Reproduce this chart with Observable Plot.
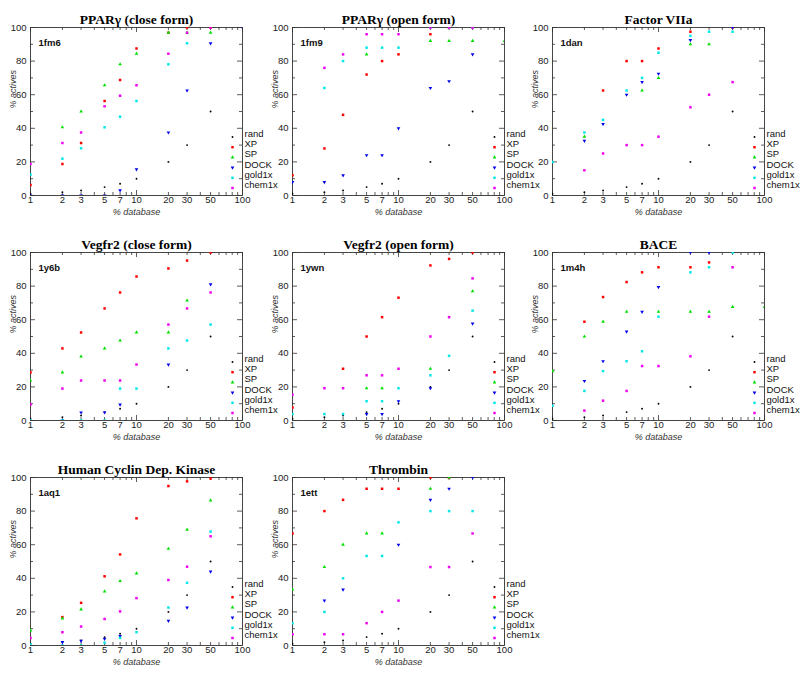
<!DOCTYPE html>
<html><head><meta charset="utf-8">
<script src="https://cdn.jsdelivr.net/npm/d3@7"></script>
<script src="https://cdn.jsdelivr.net/npm/@observablehq/plot@0.6"></script>
<style>
body{margin:0;background:#fff;}
#wrap{position:relative;width:800px;height:678px;overflow:hidden;background:#fff;}
.panel{position:absolute;}
.panel svg{overflow:visible;background:none;}
</style></head><body><div id="wrap"></div>
<script>
// x positions (% database) shared by every series
const xs = [1, 2, 3, 5, 7, 10, 20, 30, 50, 100];
const xTickLabels = [1, 2, 3, 5, 7, 10, 20, 30, 50, 100];
const yTickLabels = [0, 20, 40, 60, 80, 100];
const xMajor = [1, 10, 100];
const xMinor = [2, 3, 4, 5, 6, 7, 8, 9, 20, 30, 40, 50, 60, 70, 80, 90];
const yMajor = [0, 20, 40, 60, 80, 100];
const yMinor = [10, 30, 50, 70, 90];

const seriesNames = ["rand", "XP", "SP", "DOCK", "gold1x", "chem1x"];
const seriesColors = ["#000000", "#ff0000", "#00e000", "#0000ee", "#00e8e8", "#f000f0"];

const panelTitles = ["PPARγ (close form)", "PPARγ (open form)", "Factor VIIa",
  "Vegfr2 (close form)", "Vegfr2 (open form)", "BACE",
  "Human Cyclin Dep. Kinase", "Thrombin"];
const panelCodes = ["1fm6", "1fm9", "1dan", "1y6b", "1ywn", "1m4h", "1aq1", "1ett"];

const rand = [1, 2, 3, 5, 7, 10, 20, 30, 50, null];

// 1fm6
const fm6_XP     = [6.25, 18.75, 31.25, 56.25, 68.75, 87.5, 96.9, 100, 100, null];
const fm6_SP     = [null, 40.6, 50, 65.6, 78.1, 84.4, 96.9, 96.9, 96.9, null];
const fm6_DOCK   = [0, 0, 0, 0, 3.1, 15.6, 37.5, 62.5, 90.6, 100];
const fm6_gold1x = [12.5, 21.9, 28.1, 40.6, 46.9, 56.25, 78.1, 90.6, null, null];
const fm6_chem1x = [18.75, 31.25, 37.5, 53.1, 59.4, 65.6, 84.4, 96.9, 100, null];
// 1fm9
const fm9_XP     = [12, 28, 48, 72, 80, 84, 96, 100, 100, null];
const fm9_SP     = [null, null, null, 84, null, null, 92, 92, 92, 92];
const fm9_DOCK   = [8, 8, 12, 24, 24, 40, 64, 68, 84, null];
const fm9_gold1x = [null, 64, 80, 88, 88, 88, 100, 100, 100, null];
const fm9_chem1x = [null, 76, 84, 96, 96, 96, 100, 100, 100, null];
// 1dan
const dan_XP     = [null, null, 62.5, 80, 80, 87.5, 97.5, null, 100, null];
const dan_SP     = [null, 35, null, null, 62.5, 70, 90, 90, null, null];
const dan_DOCK   = [null, 32.5, 42.5, 60, 67.5, 72.5, 92.5, null, 100, null];
const dan_gold1x = [20, 37.5, 45, 62.5, 70, 85, 95, 97.5, 97.5, null];
const dan_chem1x = [null, 15, 25, 30, 30, 35, 52.5, 60, 67.5, null];
// 1y6b
const y6b_XP     = [28.6, 42.9, 52.4, 66.7, 76.2, 85.7, 90.5, 95.2, 100, null];
const y6b_SP     = [23.8, 28.6, 38.1, 42.9, 47.6, 52.4, 52.4, 71.4, null, null];
const y6b_DOCK   = [null, 0, 4.8, 4.8, 9.5, null, 33.3, null, 81, null];
const y6b_gold1x = [0, 0, 0, 0, 19, 19, 42.9, 47.6, 57.1, null];
const y6b_chem1x = [9.5, 19, 23.8, 23.8, 23.8, 33.3, 57.1, 66.7, 76.2, null];
// 1ywn
const ywn_XP     = [7.7, null, 30.8, 50, 61.5, 73.1, 92.3, 96.2, 100, null];
const ywn_SP     = [null, null, null, 19.2, 19.2, null, 30.8, null, 76.9, null];
const ywn_DOCK   = [null, null, null, 3.85, 3.85, 11.5, 19.2, null, 57.7, null];
const ywn_gold1x = [3.85, 3.85, 3.85, 11.5, 11.5, 19.2, 26.9, 38.5, 65.4, null];
const ywn_chem1x = [15.4, 19.2, 19.2, 26.9, 26.9, 30.8, 50, 61.5, 84.6, null];
// 1m4h
const m4h_XP     = [null, 58.8, 73.5, 82.4, 88.2, 91.2, 91.2, 94.1, null, null];
const m4h_SP     = [29.4, 50, 58.8, 64.7, null, 64.7, 64.7, 64.7, 67.6, 67.6];
const m4h_DOCK   = [null, 23.5, 35.3, 52.9, 64.7, 79.4, 100, 100, null, null];
const m4h_gold1x = [8.8, 17.6, 29.4, 35.3, 41.2, 61.8, 88.2, 91.2, 100, null];
const m4h_chem1x = [null, 5.9, 11.8, 17.6, 32.4, 32.4, 38.2, 61.8, 91.2, null];
// 1aq1
const aq1_XP     = [null, 16.9, 25.4, 41.2, 54.2, 75.7, 94.9, 97.7, 99.4, null];
const aq1_SP     = [9, 16.1, 21.5, 32.2, 38.4, 42.9, 57.6, 69, 86.4, null];
const aq1_DOCK   = [null, 2, 2.8, 4, 5.6, null, 14.7, 22.6, 44, null];
const aq1_gold1x = [0.6, 0, 0, 1.7, 4.5, 7.9, 22.6, 37.3, 67.8, null];
const aq1_chem1x = [4.5, 7.9, 11.3, 15.8, 20.3, 28.2, 39, 46.9, 65, null];
// 1ett
const ett_XP     = [66.7, 80, 86.7, 93.3, 93.3, 93.3, 100, 100, null, null];
const ett_SP     = [33.3, 46.7, 60, 66.7, 66.7, null, 93.3, 100, null, null];
const ett_DOCK   = [null, 26.7, 33.3, null, null, 60, 86.7, 93.3, 100, null];
const ett_gold1x = [13.3, 20, 40, 53.3, 53.3, 73.3, 80, 80, 80, null];
const ett_chem1x = [6.7, 6.7, 6.7, 13.3, 20, 26.7, 46.7, 46.7, 66.7, null];

const panelSeries = [
  [rand, fm6_XP, fm6_SP, fm6_DOCK, fm6_gold1x, fm6_chem1x],
  [rand, fm9_XP, fm9_SP, fm9_DOCK, fm9_gold1x, fm9_chem1x],
  [rand, dan_XP, dan_SP, dan_DOCK, dan_gold1x, dan_chem1x],
  [rand, y6b_XP, y6b_SP, y6b_DOCK, y6b_gold1x, y6b_chem1x],
  [rand, ywn_XP, ywn_SP, ywn_DOCK, ywn_gold1x, ywn_chem1x],
  [rand, m4h_XP, m4h_SP, m4h_DOCK, m4h_gold1x, m4h_chem1x],
  [rand, aq1_XP, aq1_SP, aq1_DOCK, aq1_gold1x, aq1_chem1x],
  [rand, ett_XP, ett_SP, ett_DOCK, ett_gold1x, ett_chem1x]
];

// layout
const colLeft = [0, 262, 522];
const rowFrameTop = [27, 252, 477];
const MT = 24, ML = 30, MR = 20, MB = 32, FW = 212, FH = 168;
const sans = "Liberation Sans, Arial, Helvetica, sans-serif";
const serif = "Liberation Serif, Times New Roman, serif";
const symOpts = [
  {symbol: "circle", r: 0.95},
  {symbol: "square", r: 1.4},
  {symbol: "triangle", r: 1.35},
  {symbol: "triangle", r: 1.35, rotate: 180},
  {symbol: "square", r: 1.4},
  {symbol: "square", r: 1.4}
];

const wrap = document.getElementById("wrap");

panelTitles.forEach((title, p) => {
  const row = Math.floor(p / 3), col = p % 3;
  const rows = [];
  panelSeries[p].forEach((vals, s) => {
    vals.forEach((v, i) => { if (v != null) rows.push({x: xs[i], y: v, s}); });
  });
  const marks = [
    Plot.frame({stroke: "#333", strokeWidth: 0.9}),
    // inward ticks
    Plot.tickX(xMajor, {x: d => d, insetTop: FH - 5, stroke: "#333", strokeWidth: 0.8}),
    Plot.tickX(xMajor, {x: d => d, insetBottom: FH - 5, stroke: "#333", strokeWidth: 0.8}),
    Plot.tickX(xMinor, {x: d => d, insetTop: FH - 3, stroke: "#333", strokeWidth: 0.8}),
    Plot.tickX(xMinor, {x: d => d, insetBottom: FH - 3, stroke: "#333", strokeWidth: 0.8}),
    Plot.tickY(yMajor, {y: d => d, insetRight: FW - 5, stroke: "#333", strokeWidth: 0.8}),
    Plot.tickY(yMajor, {y: d => d, insetLeft: FW - 5, stroke: "#333", strokeWidth: 0.8}),
    Plot.tickY(yMinor, {y: d => d, insetRight: FW - 3, stroke: "#333", strokeWidth: 0.8}),
    Plot.tickY(yMinor, {y: d => d, insetLeft: FW - 3, stroke: "#333", strokeWidth: 0.8}),
    // tick labels
    Plot.text(xTickLabels, {x: d => d, text: d => String(d), frameAnchor: "bottom", dy: 7.5,
      fontSize: 9.5, fontFamily: sans, fill: "#222"}),
    Plot.text(yTickLabels, {y: d => d, text: d => String(d), frameAnchor: "left", dx: -4,
      textAnchor: "end", fontSize: 9.5, fontFamily: sans, fill: "#222"}),
    // axis titles
    Plot.text(["% database"], {frameAnchor: "bottom", dy: 19, fontSize: 9, fontStyle: "italic",
      fontFamily: sans, fill: "#333"}),
    Plot.text(["% actives"], {frameAnchor: "left", dx: -17, dy: -3, rotate: -90, fontSize: 9,
      fontStyle: "italic", fontFamily: sans, fill: "#333"}),
    // title and code
    Plot.text([title], {frameAnchor: "top", dy: -13, fontSize: 13.5, fontWeight: "bold",
      fontFamily: serif, fill: "#000"}),
    Plot.text([panelCodes[p]], {frameAnchor: "top-left", dx: 8, dy: 12, textAnchor: "start",
      fontSize: 9.5, fontWeight: "bold", fontFamily: sans, fill: "#111"})
  ];
  seriesNames.forEach((name, s) => {
    const so = symOpts[s];
    marks.push(Plot.dot(rows.filter(d => d.s === s), {
      x: "x", y: "y", symbol: so.symbol, r: so.r, rotate: so.rotate || 0,
      fill: seriesColors[s], stroke: "none", clip: true
    }));
    // legend entry
    const dy = -7.5 - (5 - s) * 10.2;
    marks.push(Plot.dot([name], {frameAnchor: "bottom-right", dx: -10, dy, symbol: so.symbol,
      r: so.r, rotate: so.rotate || 0, fill: seriesColors[s], stroke: "none"}));
    marks.push(Plot.text([name], {frameAnchor: "bottom-right", dx: 2, dy, textAnchor: "start",
      fontSize: 9.5, fontFamily: sans, fill: "#111"}));
  });

  const chart = Plot.plot({
    width: ML + FW + MR,
    height: MT + FH + MB,
    marginTop: MT, marginLeft: ML, marginRight: MR, marginBottom: MB,
    x: {type: "log", domain: [1, 100], axis: null},
    y: {domain: [0, 100], axis: null},
    style: {background: "none", overflow: "visible"},
    marks
  });
  const div = document.createElement("div");
  div.className = "panel";
  div.style.left = colLeft[col] + "px";
  div.style.top = (rowFrameTop[row] - MT) + "px";
  div.appendChild(chart);
  wrap.appendChild(div);
});
</script>
</body></html>
